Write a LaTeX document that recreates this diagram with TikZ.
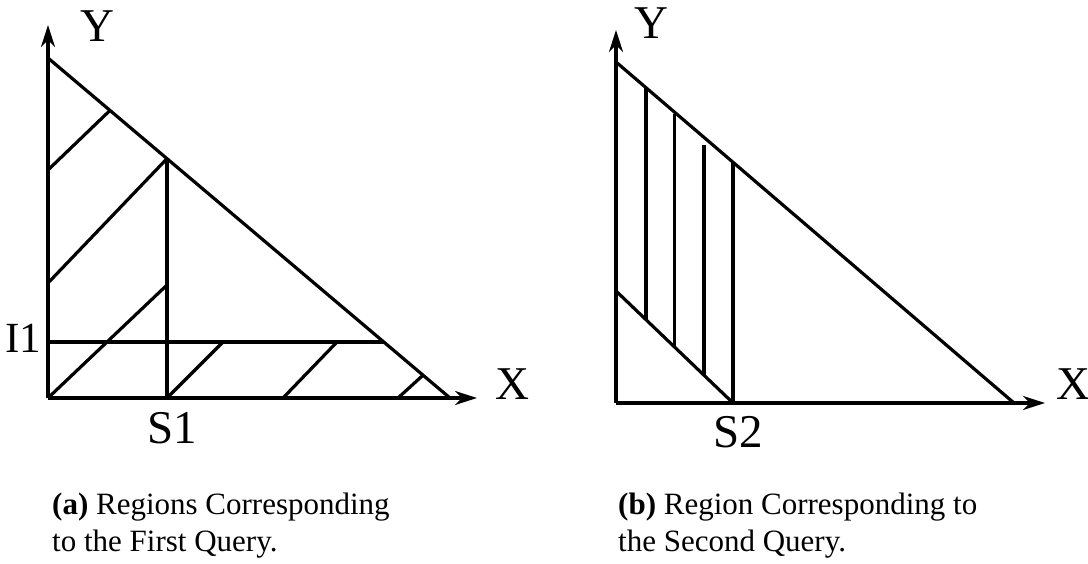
\documentclass[tikz,border=0pt]{standalone}
\usepackage{fontspec}
\setmainfont{Liberation Serif}
\usetikzlibrary{arrows.meta}
\begin{document}
\begin{tikzpicture}[x=1pt,y=-1pt,
  ln/.style={line width=3.2pt},
  axis/.style={line width=3.2pt, -{Stealth[length=22pt,width=14pt,inset=7pt]}},
  lbl/.style={inner sep=0pt, font=\fontsize{47}{47}\selectfont},
  lblsm/.style={inner sep=0pt, font=\fontsize{43}{43}\selectfont},
  capt/.style={inner sep=0pt, anchor=base west, font=\fontsize{31}{36}\selectfont}]
\useasboundingbox (0,0) rectangle (1088,564);
% ---------- left panel ----------
\coordinate (O1) at (48,398);
\coordinate (Yt1) at (48,25);
\coordinate (Xt1) at (477,398);
\coordinate (H1a) at (48,58);
\coordinate (H1b) at (450,398);
\coordinate (S1t) at (167,158.6);
\coordinate (S1b) at (167,398);
\coordinate (I1l) at (48,342);
\coordinate (I1r) at (383.8,342);
\coordinate (h1a) at (48,170);  \coordinate (h1b) at (110,110.4);
\coordinate (h2a) at (48,283);
\coordinate (h3b) at (167,285);
\coordinate (h4b) at (223,342);
\coordinate (h5a) at (283,398); \coordinate (h5b) at (337,342);
\coordinate (h6a) at (398,398); \coordinate (h6b) at (423,375.2);
\draw[axis] (O1) -- (Yt1);
\draw[axis] (O1) -- (Xt1);
\draw[ln] (H1a) -- (H1b);
\draw[ln] (S1b) -- (S1t);
\draw[ln] (I1l) -- (I1r);
\draw[ln] (h1a) -- (h1b);
\draw[ln] (h2a) -- (S1t);
\draw[ln] (O1) -- (h3b);
\draw[ln] (S1b) -- (h4b);
\draw[ln] (h5a) -- (h5b);
\draw[ln] (h6a) -- (h6b);
\node[lbl] (Y1) at (97,26) {Y};
\node[lbl] (X1) at (512,384) {X};
\node[lblsm] (I1) at (23,338) {I1};
\node[lbl] (S1) at (172,428) {S1};
\node[capt] (ca1) at (52,514) {\textbf{(a)} Regions Corresponding};
\node[capt] (ca2) at (52,551) {to the First Query.};
% ---------- right panel ----------
\coordinate (O2) at (616,403);
\coordinate (Yt2) at (616,30);
\coordinate (Xt2) at (1045,403);
\coordinate (H2a) at (616,62);
\coordinate (H2b) at (1014,403);
\coordinate (L2a) at (616,291);
\coordinate (S2t) at (733,162.2);
\coordinate (S2b) at (733,403);
\coordinate (v1t) at (646,87.7);  \coordinate (v1b) at (646,319.7);
\coordinate (v2t) at (674.5,114.5); \coordinate (v2b) at (674.5,347);
\coordinate (v3t) at (704,145);  \coordinate (v3b) at (704,375.2);
\draw[axis] (O2) -- (Yt2);
\draw[axis] (O2) -- (Xt2);
\draw[ln] (H2a) -- (H2b);
\draw[ln] (L2a) -- (S2b);
\draw[ln] (S2b) -- (S2t);
\draw[ln] (v1b) -- (v1t);
\draw[ln] (v2b) -- (v2t);
\draw[ln] (v3b) -- (v3t);
\node[lbl] (Y2) at (651,23) {Y};
\node[lbl] (X2) at (1073,384) {X};
\node[lbl] (S2) at (738,432) {S2};
\node[capt] (cb1) at (618,514) {\textbf{(b)} Region Corresponding to};
\node[capt] (cb2) at (618,551) {the Second Query.};
\end{tikzpicture}
\end{document}
